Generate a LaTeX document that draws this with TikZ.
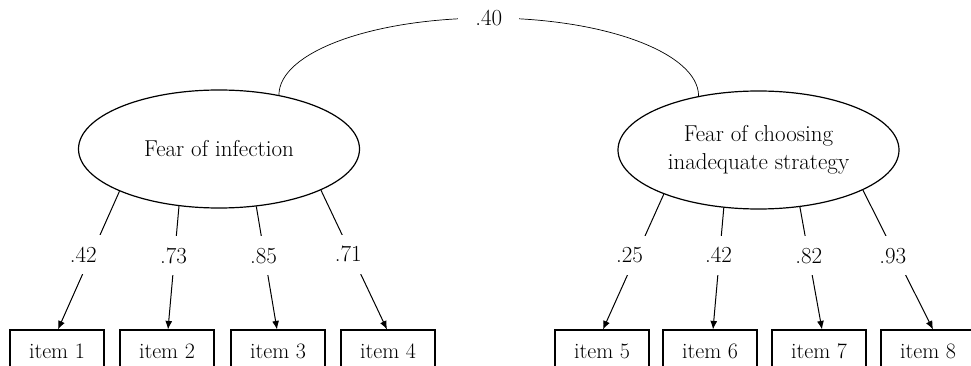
\documentclass[tikz,border=0pt]{standalone}
\usetikzlibrary{shapes.geometric,arrows.meta,calc}
\begin{document}
\begin{tikzpicture}[x=1pt,y=-1pt,
  latent/.style={draw, ellipse, line width=1.2pt, minimum width=281pt, minimum height=118pt, inner sep=0pt, align=center, font=\fontsize{23}{28}\selectfont},
  itembox/.style={draw, line width=1.1pt, minimum width=94pt, minimum height=42pt, inner sep=0pt, font=\fontsize{22}{26}\selectfont},
  lab/.style={fill=white, inner sep=0pt, minimum height=39pt, minimum width=40pt, font=\fontsize{23}{27}\selectfont},
  load/.style={line width=1pt, -{Latex[length=8.5pt,width=7pt]}},
  corr/.style={line width=0.7pt}]
\useasboundingbox (0,0) rectangle (971,366);
\clip (0,0) rectangle (971,366);

% latent factors
\node[latent] (f1) at (219,149) {Fear of infection};
\node[latent] (f2) at (758.5,150) {Fear of choosing\\inadequate strategy};

% items
\node[itembox] (i1) at (57,351) {item 1};
\node[itembox] (i2) at (167,351) {item 2};
\node[itembox] (i3) at (278,351) {item 3};
\node[itembox] (i4) at (388,351) {item 4};
\node[itembox] (i5) at (602,351) {item 5};
\node[itembox] (i6) at (710,351) {item 6};
\node[itembox] (i7) at (819,351) {item 7};
\node[itembox] (i8) at (928,351) {item 8};

% start points on the ellipses
\coordinate (s1) at (f1.203);
\coordinate (s2) at (f1.235);
\coordinate (s3) at (f1.303);
\coordinate (s4) at (f1.338);
\coordinate (s5) at (f2.205);
\coordinate (s6) at (f2.239);
\coordinate (s7) at (f2.306);
\coordinate (s8) at (f2.339);

% arrow ends on the boxes
\coordinate (e1) at ([xshift=1pt]i1.north);
\coordinate (e2) at ([xshift=1pt]i2.north);
\coordinate (e3) at ([xshift=-1pt]i3.north);
\coordinate (e4) at ([xshift=-1pt]i4.north);
\coordinate (e5) at ([xshift=1pt]i5.north);
\coordinate (e6) at ([xshift=3pt]i6.north);
\coordinate (e7) at ([xshift=3pt]i7.north);
\coordinate (e8) at ([xshift=5pt]i8.north);

% loadings
\draw[load] (s1) -- node[lab, pos=0.46, xshift=-8pt] (l1) {.42} (e1);
\draw[load] (s2) -- node[lab, pos=0.40, xshift=-1pt] (l2) {.73} (e2);
\draw[load] (s3) -- node[lab, pos=0.40, xshift=-1pt] (l3) {.85} (e3);
\draw[load] (s4) -- node[lab, pos=0.46, xshift=-3pt] (l4) {.71} (e4);
\draw[load] (s5) -- node[lab, pos=0.45, xshift=-7pt] (l5) {.25} (e5);
\draw[load] (s6) -- node[lab, pos=0.39, xshift=-1pt] (l6) {.42} (e6);
\draw[load] (s7) -- node[lab, pos=0.40, xshift=0pt] (l7) {.82} (e7);
\draw[load] (s8) -- node[lab, pos=0.47, xshift=-3pt] (l8) {.93} (e8);

% correlation
\coordinate (top) at (488.75,18);
\draw[corr] (f1.42) .. controls +(0,-42.9) and +(-116.2,0) .. (top)
  .. controls +(116.2,0) and +(0,-42.9) .. (f2.138);
\node[fill=white, inner sep=0pt, minimum width=61pt, minimum height=12pt, font=\fontsize{23}{27}\selectfont] (r) at (top) {.40\hspace{13pt}};
\end{tikzpicture}
\end{document}
